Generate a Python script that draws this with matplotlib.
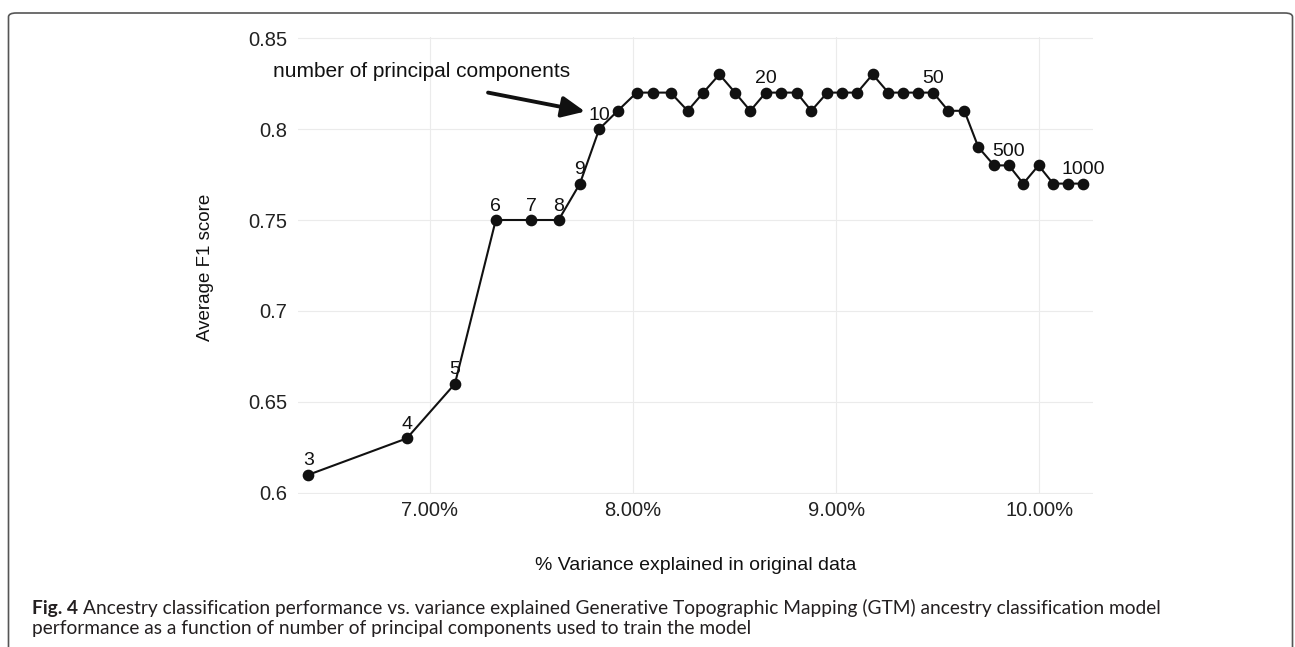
import matplotlib
matplotlib.use("Agg")
import matplotlib.pyplot as plt
from matplotlib.patches import FancyBboxPatch

# % variance explained (x) and average F1 score (y) for each model
variance_pct = [6.404, 6.888, 7.125, 7.326, 7.499, 7.635, 7.740, 7.835, 7.926, 8.019,
                8.101, 8.186, 8.270, 8.347, 8.426, 8.503, 8.578, 8.654, 8.729, 8.806,
                8.878, 8.957, 9.031, 9.104, 9.180, 9.257, 9.331, 9.404, 9.478, 9.552,
                9.631, 9.700, 9.777, 9.850, 9.921, 9.996, 10.068, 10.142, 10.216]
f1_score = [0.61, 0.63, 0.66, 0.75, 0.75, 0.75, 0.77, 0.80, 0.81, 0.82,
            0.82, 0.82, 0.81, 0.82, 0.83, 0.82, 0.81, 0.82, 0.82, 0.82,
            0.81, 0.82, 0.82, 0.82, 0.83, 0.82, 0.82, 0.82, 0.82, 0.81,
            0.81, 0.79, 0.78, 0.78, 0.77, 0.78, 0.77, 0.77, 0.77]
# number of principal components shown next to selected points
pc_labels = ["3", "4", "5", "6", "7", "8", "9", "10", "", "",
             "", "", "", "", "", "", "", "20", "", "",
             "", "", "", "", "", "", "", "", "50", "",
             "", "", "", "500", "", "", "", "", "1000"]

x_ticks = [7, 8, 9, 10]
x_tick_labels = ["7.00%", "8.00%", "9.00%", "10.00%"]
y_ticks = [0.6, 0.65, 0.7, 0.75, 0.8, 0.85]
y_tick_labels = ["0.6", "0.65", "0.7", "0.75", "0.8", "0.85"]

W, H = 1295, 647
fig = plt.figure(figsize=(W / 100, H / 100), dpi=100)
fig.patch.set_facecolor("white")

# panel placed in pixel units
left, right, top, bottom = 298, 1093, 37, 494
ax = fig.add_axes([left / W, (H - bottom) / H, (right - left) / W, (bottom - top) / H])
ax.set_xlim(6.353, 10.264)
ax.set_ylim(0.59945, 0.85055)
for s in ax.spines.values():
    s.set_visible(False)
ax.set_facecolor("white")

ax.set_xticks(x_ticks)
ax.set_xticklabels(x_tick_labels)
ax.set_yticks(y_ticks)
ax.set_yticklabels(y_tick_labels)
ax.tick_params(axis="both", length=0, labelsize=14.5, colors="#222222")
ax.tick_params(axis="x", pad=5)
ax.tick_params(axis="y", pad=8)
for lab in ax.get_xticklabels() + ax.get_yticklabels():
    lab.set_family("Liberation Sans")
ax.grid(True, color="#ebebeb", linewidth=0.8)
ax.set_axisbelow(True)

ax.plot(variance_pct, f1_score, color="#111111", linewidth=1.5, zorder=3,
        marker="o", markersize=7.4, markerfacecolor="#111111", markeredgecolor="#111111",
        clip_on=False)

for xv, yv, lab in zip(variance_pct, f1_score, pc_labels):
    if lab:
        ax.annotate(lab, (xv, yv), xytext=(0, 6.8), textcoords="offset points",
                    ha="center", va="baseline", fontsize=14, color="#111111",
                    family="Liberation Sans", zorder=4, annotation_clip=False)

# annotation arrow pointing at the 10-component model
ax.annotate("", xy=(7.765, 0.8096), xytext=(7.288, 0.820),
            arrowprops=dict(arrowstyle="-|>,head_length=0.7,head_width=0.32",
                            lw=2.8, color="#111111", shrinkA=0, shrinkB=0,
                            mutation_scale=20),
            annotation_clip=False, zorder=4)
ax.text(7.691, 0.8317, "number of principal components", ha="right", va="center",
        fontsize=15, color="#111111", family="Liberation Sans", clip_on=False)

# axis titles
fig.text(206 / W, 1 - 267 / H, "Average F1 score", rotation=90, ha="center", va="center",
         fontsize=13.5, color="#111111", family="Liberation Sans")
fig.text((left + right) / 2 / W, 1 - 566 / H, "% Variance explained in original data",
         ha="center", va="center", fontsize=14, color="#111111", family="Liberation Sans")

# frame around the figure
frame = FancyBboxPatch((8.5 / W, -0.2), (1292.5 - 8.5) / W, (H - 13) / H + 0.2,
                       boxstyle="round,pad=0,rounding_size=0.006",
                       transform=fig.transFigure, facecolor="none",
                       edgecolor="#555555", linewidth=1.2, clip_on=False)
fig.add_artist(frame)

# caption
cap_font = "Lato"
line1_rest = ("Ancestry classification performance vs. variance explained Generative "
              "Topographic Mapping (GTM) ancestry classification model")
line2 = "performance as a function of number of principal components used to train the model"
cap_x0, cap_x1 = 32, 1166
base1, base2 = 614, 634

fig.canvas.draw()
renderer = fig.canvas.get_renderer()

def width_px(txt, size, weight):
    t = fig.text(0, 0, txt, fontsize=size, family=cap_font, fontweight=weight)
    w = t.get_window_extent(renderer).width
    t.remove()
    return w

ref = 10.0
w_bold = width_px("Fig. 4", ref, "bold")
w_space = width_px("a a", ref, "normal") - width_px("aa", ref, "normal")
w_rest = width_px(line1_rest, ref, "normal")
cap_size = ref * (cap_x1 - cap_x0) / (w_bold + w_space + w_rest)

tb = fig.text(cap_x0 / W, 1 - base1 / H, "Fig. 4", fontsize=cap_size, family=cap_font,
              fontweight="bold", va="baseline", ha="left", color="#231f20")
fig.canvas.draw()
bx1 = tb.get_window_extent(renderer).x1
fig.text(bx1 / W + w_space * cap_size / ref / W, 1 - base1 / H, line1_rest, fontsize=cap_size,
         family=cap_font, va="baseline", ha="left", color="#231f20")
fig.text(cap_x0 / W, 1 - base2 / H, line2, fontsize=cap_size, family=cap_font,
         va="baseline", ha="left", color="#231f20")

fig.savefig("out.png", dpi=100, facecolor="white")
